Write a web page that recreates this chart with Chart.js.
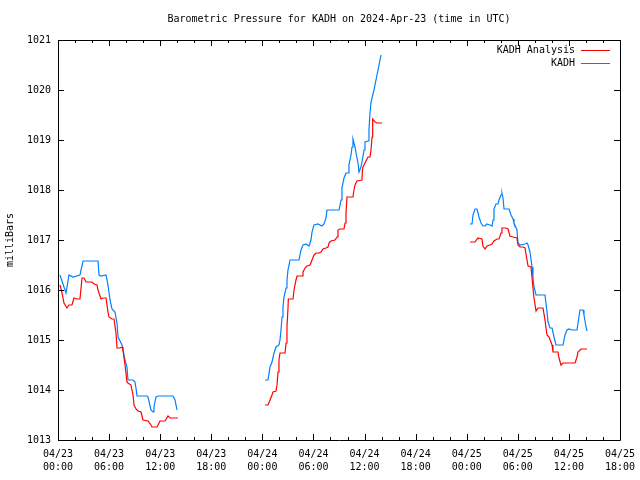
<!DOCTYPE html>
<html>
<head>
<meta charset="utf-8">
<script src="https://cdn.jsdelivr.net/npm/chart.js@4"></script>
<style>
  html, body { margin: 0; padding: 0; background: #fff; overflow: hidden; }
  canvas { display: block; }
</style>
</head>
<body>
<canvas id="pressure" width="640" height="480"></canvas>
<script>
// hours since 04/23 00:00 UTC, null breaks the line
const analysisHours = [
  0.23, 0.47, 0.70, 1.06, 1.29, 1.64, 1.88, 2.23, 2.58, 2.82, 3.05, 3.29, 3.99, 4.23, 4.58, 4.70,
  5.05, 5.28, 5.64, 5.87, 5.99, 6.34, 6.58, 6.81, 6.93, 7.28, 7.52, 7.63, 7.87, 8.10, 8.22, 8.57,
  8.81, 8.93, 9.16, 9.40, 9.75, 9.98, 10.57, 10.92, 11.04, 11.63, 11.98, 12.57, 12.92, 13.15, 14.09,
  19,
  24.31, 24.66, 24.90, 25.13, 25.25, 25.60, 25.72, 25.84, 25.95, 26.07, 26.66, 26.78, 26.89, 27.01,
  27.05, 27.60, 27.72, 27.95, 28.07, 28.66, 28.77, 29.01, 29.24, 29.60, 29.83, 30.06, 30.30, 30.65,
  30.89, 31.12, 31.47, 31.71, 31.83, 32.06, 32.53, 32.77, 32.88, 33.12, 33.59, 33.71, 33.82, 33.94,
  34.64, 34.76, 34.88, 35.11, 35.70, 35.75, 35.82, 36.05, 36.41, 36.64, 36.76, 36.88, 36.92, 36.99,
  37.23, 37.46, 38.05,
  43,
  48.38, 48.97, 49.21, 49.32, 49.79, 49.91, 50.15, 50.38, 50.73, 50.97, 51.20, 51.56, 51.79, 52.03,
  52.14, 52.61, 52.85, 53.08, 53.44, 53.90, 54.02, 54.26, 54.61, 54.84, 55.08, 55.20, 55.55, 55.78,
  55.90, 56.14, 56.37, 56.96, 57.19, 57.31, 57.43, 57.66, 58.02, 58.13, 58.72, 58.84, 59.07, 59.31,
  60.72, 60.95, 61.07, 61.42, 62.13
];
const analysisValues = [
  1016.10, 1015.94, 1015.74, 1015.64, 1015.70, 1015.70, 1015.84, 1015.82, 1015.82, 1016.24, 1016.24, 1016.16, 1016.16, 1016.12, 1016.10, 1016.00,
  1015.82, 1015.84, 1015.84, 1015.56, 1015.46, 1015.42, 1015.42, 1015.14, 1014.84, 1014.84, 1014.86, 1014.80, 1014.50, 1014.16, 1014.14, 1014.10,
  1013.90, 1013.70, 1013.62, 1013.58, 1013.56, 1013.40, 1013.38, 1013.30, 1013.26, 1013.26, 1013.38, 1013.38, 1013.48, 1013.44, 1013.44,
  null,
  1013.70, 1013.70, 1013.80, 1013.90, 1013.96, 1013.98, 1014.10, 1014.36, 1014.60, 1014.74, 1014.74, 1014.94, 1015.26, 1015.64,
  1015.82, 1015.82, 1016.00, 1016.20, 1016.28, 1016.28, 1016.36, 1016.44, 1016.48, 1016.50, 1016.60, 1016.70, 1016.74, 1016.74,
  1016.76, 1016.82, 1016.84, 1016.86, 1016.94, 1016.98, 1017.00, 1017.06, 1017.20, 1017.22, 1017.22, 1017.34, 1017.54, 1017.86,
  1017.86, 1018.00, 1018.10, 1018.18, 1018.20, 1018.40, 1018.46, 1018.54, 1018.66, 1018.66, 1018.80, 1019.06, 1019.26, 1019.42,
  1019.36, 1019.34, 1019.34,
  null,
  1016.96, 1016.96, 1017.02, 1017.04, 1017.02, 1016.88, 1016.82, 1016.88, 1016.90, 1016.92, 1016.98, 1017.02, 1017.02, 1017.14,
  1017.24, 1017.24, 1017.22, 1017.08, 1017.06, 1017.04, 1016.90, 1016.86, 1016.86, 1016.84, 1016.60, 1016.48, 1016.46, 1016.04,
  1015.84, 1015.58, 1015.64, 1015.64, 1015.40, 1015.24, 1015.10, 1015.06, 1014.90, 1014.76, 1014.76, 1014.64, 1014.50, 1014.54,
  1014.54, 1014.66, 1014.76, 1014.82, 1014.82
];

const kadhHours = [
  0.23, 0.94, 1.29, 1.76, 2.58, 2.94, 4.70, 4.82, 5.05, 5.64, 5.87, 6.11, 6.34, 6.69, 6.93, 7.05,
  7.52, 7.63, 7.87, 8.10, 8.22, 8.81, 9.04, 9.16, 9.28, 10.45, 10.57, 10.92, 11.16, 11.27, 11.51,
  11.74, 13.51, 13.74, 13.98,
  19,
  24.31, 24.66, 24.90, 25.13, 25.37, 25.60, 25.95, 26.07, 26.19, 26.31, 26.42, 26.54, 26.78, 26.89,
  27.01, 27.25, 28.30, 28.54, 28.77, 29.12, 29.48, 29.71, 29.83, 30.06, 30.53, 31.00, 31.24, 31.47,
  31.59, 33.00, 33.24, 33.35, 33.59, 33.82, 34.06, 34.17, 34.41, 34.53, 34.64, 34.88, 35.00, 35.23,
  35.35, 35.58, 35.70, 35.94, 36.05, 36.41, 36.52, 36.64, 36.76, 37.11, 37.46, 37.70, 37.93,
  43,
  48.38, 48.62, 48.74, 48.97, 49.21, 49.44, 49.68, 49.91, 50.15, 50.38, 50.73, 50.97, 51.09, 51.20,
  51.44, 51.67, 51.79, 52.03, 52.14, 52.26, 52.38, 52.97, 53.20, 53.44, 53.55, 53.90, 54.02, 54.26,
  54.84, 55.08, 55.20, 55.43, 55.67, 55.78, 55.90, 56.14, 57.19, 57.43, 57.55, 57.78, 58.02, 58.25,
  58.48, 59.31, 59.54, 59.78, 60.01, 60.36, 60.95, 61.07, 61.30, 61.66, 61.77, 62.01, 62.13
];
const kadhValues = [
  1016.30, 1015.94, 1016.30, 1016.26, 1016.30, 1016.58, 1016.58, 1016.30, 1016.28, 1016.30, 1016.10, 1015.80, 1015.62, 1015.56, 1015.34, 1015.06,
  1014.90, 1014.90, 1014.60, 1014.46, 1014.20, 1014.20, 1014.16, 1014.04, 1013.88, 1013.88, 1013.86, 1013.60, 1013.56, 1013.66, 1013.86,
  1013.88, 1013.88, 1013.80, 1013.60,
  null,
  1014.20, 1014.20, 1014.46, 1014.56, 1014.74, 1014.86, 1014.90, 1015.00, 1015.20, 1015.46, 1015.66, 1015.86, 1016.04, 1016.20,
  1016.40, 1016.60, 1016.60, 1016.80, 1016.90, 1016.92, 1016.88, 1017.00, 1017.16, 1017.30, 1017.32, 1017.28, 1017.32, 1017.44,
  1017.60, 1017.60, 1017.80, 1018.04, 1018.24, 1018.34, 1018.34, 1018.50, 1018.70, 1018.86, 1019.02, 1018.86, 1018.74, 1018.54,
  1018.36, 1018.46, 1018.56, 1018.80, 1018.96, 1018.98, 1019.20, 1019.54, 1019.76, 1020.00, 1020.30, 1020.50, 1020.70,
  null,
  1017.32, 1017.32, 1017.50, 1017.62, 1017.62, 1017.46, 1017.34, 1017.28, 1017.28, 1017.32, 1017.30, 1017.28, 1017.40, 1017.62,
  1017.72, 1017.72, 1017.80, 1017.90, 1017.94, 1017.84, 1017.62, 1017.62, 1017.50, 1017.42, 1017.34, 1017.20, 1016.94, 1016.90,
  1016.92, 1016.94, 1016.90, 1016.76, 1016.46, 1016.24, 1016.06, 1015.90, 1015.90, 1015.56, 1015.36, 1015.24, 1015.24, 1015.06,
  1014.90, 1014.90, 1015.10, 1015.20, 1015.22, 1015.20, 1015.20, 1015.34, 1015.60, 1015.60, 1015.50, 1015.26, 1015.18
];

// x tick labels, one per 6 hours
const dateLabels = ["04/23", "04/23", "04/23", "04/23", "04/24", "04/24", "04/24", "04/24", "04/25", "04/25", "04/25", "04/25"];
const timeLabels = ["00:00", "06:00", "12:00", "18:00", "00:00", "06:00", "12:00", "18:00", "00:00", "06:00", "12:00", "18:00"];

const chartTitle = "Barometric Pressure for KADH on 2024-Apr-23 (time in UTC)";
const FONT = "'DejaVu Sans Mono', 'Liberation Mono', monospace";
const RED = "#ff0000";
const BLUE = "#0080ff";

function toPoints(xs, ys) {
  return xs.map((x, i) => ({ x: x, y: ys[i] }));
}

// frame, inward ticks, title and legend (gnuplot look)
const gnuplotFrame = {
  id: "gnuplotFrame",
  afterDraw(chart) {
    const ctx = chart.ctx;
    const a = chart.chartArea;
    const xs = chart.scales.x;
    const ys = chart.scales.y;
    ctx.save();
    ctx.strokeStyle = "#000";
    ctx.lineWidth = 1;
    ctx.beginPath();
    ctx.rect(Math.round(a.left) + 0.5, Math.round(a.top) + 0.5,
      Math.round(a.right - a.left), Math.round(a.bottom - a.top));
    // x ticks every 2 hours, longer every 6
    for (let h = 0; h <= 66; h += 2) {
      const px = Math.round(xs.getPixelForValue(h)) + 0.5;
      const len = h % 6 === 0 ? 6 : 3;
      ctx.moveTo(px, a.bottom); ctx.lineTo(px, a.bottom - len);
      ctx.moveTo(px, a.top); ctx.lineTo(px, a.top + len);
    }
    for (let v = 1013; v <= 1021; v++) {
      const py = Math.round(ys.getPixelForValue(v)) + 0.5;
      ctx.moveTo(a.left, py); ctx.lineTo(a.left + 6, py);
      ctx.moveTo(a.right, py); ctx.lineTo(a.right - 6, py);
    }
    ctx.stroke();

    ctx.fillStyle = "#000";
    ctx.font = "10px " + FONT;
    ctx.textAlign = "center";
    ctx.textBaseline = "middle";
    ctx.fillText(chartTitle, (a.left + a.right) / 2, 19);

    ctx.textAlign = "right";
    chart.data.datasets.forEach((ds, i) => {
      const y = 50 + i * 13;
      ctx.fillStyle = "#000";
      ctx.fillText(ds.label, 575, y);
      ctx.strokeStyle = ds.borderColor;
      ctx.beginPath();
      ctx.moveTo(581, y + 0.5);
      ctx.lineTo(610, y + 0.5);
      ctx.stroke();
    });
    ctx.restore();
  }
};

const ctx = document.getElementById("pressure").getContext("2d");
new Chart(ctx, {
  type: "line",
  data: {
    datasets: [
      {
        label: "KADH Analysis",
        data: toPoints(analysisHours, analysisValues),
        borderColor: RED,
        borderWidth: 1.2,
        pointRadius: 0,
        spanGaps: false,
      },
      {
        label: "KADH",
        data: toPoints(kadhHours, kadhValues),
        borderColor: BLUE,
        borderWidth: 1.2,
        pointRadius: 0,
        spanGaps: false,
      },
    ],
  },
  options: {
    responsive: false,
    animation: false,
    layout: { padding: { top: 40, right: 20, left: 0, bottom: 0 } },
    plugins: {
      legend: { display: false },
      title: { display: false },
      tooltip: { enabled: false },
    },
    scales: {
      x: {
        type: "linear",
        min: 0,
        max: 66,
        grid: { display: false, drawTicks: false },
        border: { display: false },
        afterFit(scale) {
          scale.height = 40;
          scale.paddingLeft = 0;
          scale.paddingRight = 0;
        },
        afterBuildTicks(scale) {
          scale.ticks = dateLabels.map((d, i) => ({ value: i * 6 }));
        },
        ticks: {
          autoSkip: false,
          maxRotation: 0,
          padding: 8,
          color: "#000",
          font: { family: FONT, size: 10, lineHeight: 1.3 },
          callback: (v) => {
            const i = Math.round(v / 6);
            return [dateLabels[i], timeLabels[i]];
          },
        },
      },
      y: {
        min: 1013,
        max: 1021,
        grid: { display: false, drawTicks: false },
        border: { display: false },
        afterFit(scale) {
          scale.width = 58;
          scale.paddingTop = 0;
          scale.paddingBottom = 0;
        },
        ticks: {
          stepSize: 1,
          padding: 7,
          color: "#000",
          font: { family: FONT, size: 10 },
          callback: (v) => String(v),
        },
        title: {
          display: true,
          text: "milliBars",
          color: "#000",
          padding: { top: 4, bottom: 0 },
          font: { family: FONT, size: 10 },
        },
      },
    },
  },
  plugins: [gnuplotFrame],
});
</script>
</body>
</html>
